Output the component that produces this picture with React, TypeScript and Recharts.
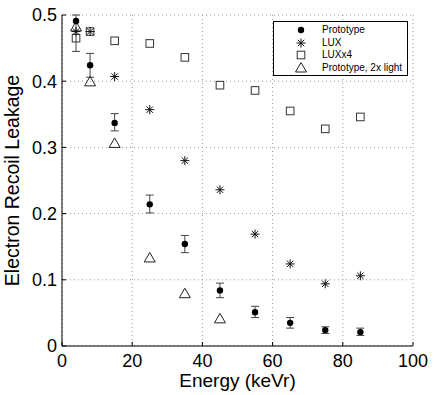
import React from "react";
import {
  ScatterChart,
  Scatter,
  XAxis,
  YAxis,
  CartesianGrid,
  ErrorBar,
} from "recharts";

// energies in keVr
const energies = [4, 8, 15, 25, 35, 45, 55, 65, 75, 85];
const prototypeLeak = [0.491, 0.424, 0.337, 0.214, 0.154, 0.084, 0.051, 0.035, 0.024, 0.021];
const prototypeErrLow = [0.046, 0.018, 0.012, 0.013, 0.013, 0.011, 0.008, 0.008, 0.005, 0.005];
const prototypeErrHigh = [0.009, 0.018, 0.014, 0.014, 0.013, 0.011, 0.009, 0.008, 0.005, 0.006];
const luxLeak = [0.475, 0.475, 0.407, 0.357, 0.28, 0.236, 0.169, 0.124, 0.094, 0.106];
const luxX4Leak = [0.465, 0.475, 0.461, 0.457, 0.436, 0.394, 0.386, 0.355, 0.328, 0.346];
const light2xEnergies = [4, 8, 15, 25, 35, 45];
const light2xLeak = [0.482, 0.399, 0.306, 0.133, 0.079, 0.041];

const xTicks = [0, 20, 40, 60, 80, 100];
const yTicks = [0, 0.1, 0.2, 0.3, 0.4, 0.5];

const FONT = "'Liberation Sans', Arial, Helvetica, sans-serif";

const prototypeData = energies.map((x, i) => ({
  x,
  y: prototypeLeak[i],
  err: [prototypeErrLow[i], prototypeErrHigh[i]],
}));
const luxData = energies.map((x, i) => ({ x, y: luxLeak[i] }));
const luxX4Data = energies.map((x, i) => ({ x, y: luxX4Leak[i] }));
const light2xData = light2xEnergies.map((x, i) => ({ x, y: light2xLeak[i] }));

const Dot = (p: any) => <circle cx={p.cx} cy={p.cy} r={3.2} fill="#000" />;

const Star = (p: any) => {
  const { cx, cy } = p;
  const r = 4.5;
  const d = 3.2;
  return (
    <g stroke="#111" strokeWidth={1}>
      <line x1={cx - r} y1={cy} x2={cx + r} y2={cy} />
      <line x1={cx} y1={cy - r} x2={cx} y2={cy + r} />
      <line x1={cx - d} y1={cy - d} x2={cx + d} y2={cy + d} />
      <line x1={cx - d} y1={cy + d} x2={cx + d} y2={cy - d} />
    </g>
  );
};

const Square = (p: any) => (
  <rect x={p.cx - 3.8} y={p.cy - 3.8} width={7.6} height={7.6} fill="none" stroke="#333" strokeWidth={1} />
);

const Triangle = (p: any) => {
  const { cx, cy } = p;
  return (
    <polygon
      points={`${cx},${cy - 5.5} ${cx - 5.5},${cy + 4} ${cx + 5.5},${cy + 4}`}
      fill="none"
      stroke="#222"
      strokeWidth={1}
    />
  );
};

const legendItems = [
  { label: "Prototype", Shape: Dot },
  { label: "LUX", Shape: Star },
  { label: "LUXx4", Shape: Square },
  { label: "Prototype, 2x light", Shape: Triangle },
];

export default function App() {
  return (
    <div style={{ position: "absolute", left: 0, top: 0, width: 436, height: 395, background: "#fff" }}>
      <ScatterChart width={436} height={395} margin={{ top: 15, right: 23, bottom: 0, left: 22 }}>
        <CartesianGrid stroke="#9a9a9a" strokeDasharray="1 3" />
        <XAxis
          type="number"
          dataKey="x"
          domain={[0, 100]}
          ticks={xTicks}
          height={49}
          stroke="#000"
          tickSize={-4}
          tickMargin={12}
          tick={{ fill: "#000", fontSize: 18, fontFamily: FONT }}
          label={{
            value: "Energy (keVr)",
            position: "insideBottom",
            offset: 8,
            fill: "#000",
            fontSize: 19,
            fontFamily: FONT,
          }}
        />
        <YAxis
          type="number"
          dataKey="y"
          domain={[0, 0.5]}
          ticks={yTicks}
          width={40}
          stroke="#000"
          tickSize={-4}
          tickMargin={9}
          tickFormatter={(v: number) => String(Math.round(v * 10) / 10)}
          tick={{ fill: "#000", fontSize: 18, fontFamily: FONT }}
          label={{
            value: "Electron Recoil Leakage",
            angle: -90,
            position: "center",
            dx: -30,
            fill: "#000",
            fontSize: 19.5,
            fontFamily: FONT,
          }}
        />
        <Scatter data={luxX4Data} shape={Square} isAnimationActive={false} />
        <Scatter data={light2xData} shape={Triangle} isAnimationActive={false} />
        <Scatter data={luxData} shape={Star} isAnimationActive={false} />
        <Scatter data={prototypeData} shape={Dot} isAnimationActive={false}>
          <ErrorBar dataKey="err" direction="y" width={4} stroke="#444" strokeWidth={1} />
        </Scatter>
      </ScatterChart>
      <div
        style={{
          position: "absolute",
          left: 273,
          top: 21,
          width: 135,
          height: 55,
          boxSizing: "border-box",
          border: "1px solid #000",
          background: "#fff",
          fontFamily: FONT,
          fontSize: 10,
          color: "#000",
          paddingTop: 2,
        }}
      >
        {legendItems.map(({ label, Shape }) => (
          <div key={label} style={{ display: "flex", alignItems: "center", height: 12.5 }}>
            <svg width={48} height={12} style={{ flex: "none" }}>
              <Shape cx={27} cy={6} />
            </svg>
            <span style={{ lineHeight: "12px" }}>{label}</span>
          </div>
        ))}
      </div>
    </div>
  );
}
